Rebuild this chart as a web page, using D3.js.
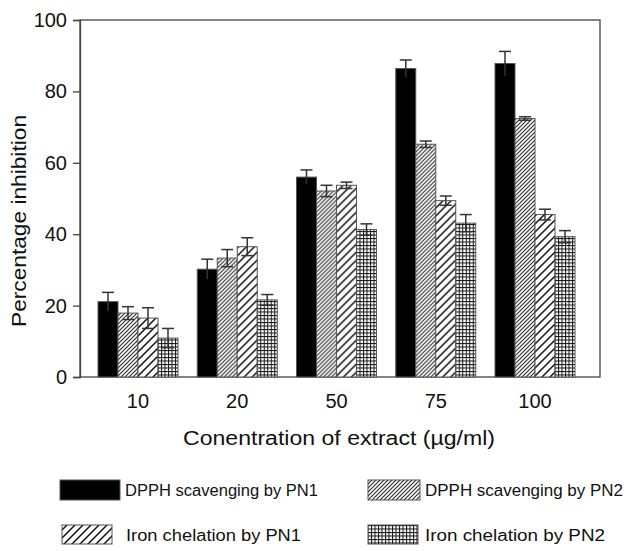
<!DOCTYPE html>
<html><head><meta charset="utf-8">
<script src="https://cdn.jsdelivr.net/npm/d3@7"></script>
<style>html,body{margin:0;padding:0;background:#fff;}svg{display:block;font-family:"Liberation Sans",Arial,Helvetica,sans-serif;}</style>
</head><body>
<script>
const categories = ["10", "20", "50", "75", "100"];
const seriesNames = ["DPPH scavenging by PN1", "DPPH scavenging by PN2", "Iron chelation by PN1", "Iron chelation by PN2"];
const dpphPN1 = [21.1, 30.2, 56.0, 86.4, 87.8];
const dpphPN1Err = [2.6, 2.8, 2.0, 2.4, 3.4];
const dpphPN2 = [17.9, 33.3, 52.1, 65.2, 72.4];
const dpphPN2Err = [1.8, 2.4, 1.6, 0.9, 0.5];
const ironPN1 = [16.5, 36.5, 53.7, 49.4, 45.5];
const ironPN1Err = [2.9, 2.5, 0.9, 1.3, 1.5];
const ironPN2 = [10.9, 21.6, 41.3, 43.1, 39.3];
const ironPN2Err = [2.7, 1.5, 1.6, 2.4, 1.7];
const yTicks = [0, 20, 40, 60, 80, 100];
const xTitle = "Conentration of extract (\u00b5g/ml)";
const yTitle = "Percentage inhibition";

const values = [dpphPN1, dpphPN2, ironPN1, ironPN2];
const errors = [dpphPN1Err, dpphPN2Err, ironPN1Err, ironPN2Err];
const fills = ["#000", "url(#pDense)", "url(#pWide)", "url(#pGrid)"];

const W = 629, H = 551;
const svg = d3.select("body").append("svg").attr("width", W).attr("height", H);
const defs = svg.append("defs");

function diagPattern(id, s, color, sw) {
  const p = defs.append("pattern").attr("id", id).attr("patternUnits", "userSpaceOnUse")
    .attr("width", s).attr("height", s);
  p.append("rect").attr("width", s).attr("height", s).attr("fill", "#fff");
  p.append("path").attr("d", `M0,${s} L${s},0 M${-s / 2},${s / 2} L${s / 2},${-s / 2} M${s / 2},${s * 1.5} L${s * 1.5},${s / 2}`)
    .attr("stroke", color).attr("stroke-width", sw).attr("fill", "none");
}
diagPattern("pDense", 4, "#333", 1.2);
diagPattern("pWide", 8, "#111", 1.5);
// grid
const pg = defs.append("pattern").attr("id", "pGrid").attr("patternUnits", "userSpaceOnUse")
  .attr("width", 3.5).attr("height", 3.5);
pg.append("rect").attr("width", 3.5).attr("height", 3.5).attr("fill", "#fff");
pg.append("line").attr("x1", 0.5).attr("y1", 0).attr("x2", 0.5).attr("y2", 3.5).attr("stroke", "#111").attr("stroke-width", 1);
pg.append("line").attr("x1", 0).attr("y1", 0.5).attr("x2", 3.5).attr("y2", 0.5).attr("stroke", "#111").attr("stroke-width", 1);

const plot = {left: 80, right: 600, top: 20, bottom: 377};
const y = d3.scaleLinear().domain([0, 100]).range([plot.bottom, plot.top]);
const x0 = d3.scaleBand().domain(categories).range([98, 575]).paddingInner(0.194).paddingOuter(0);
const x1 = d3.scaleBand().domain(d3.range(4)).range([0, x0.bandwidth()]).padding(0);

// frame
svg.append("rect").attr("x", plot.left).attr("y", plot.top)
  .attr("width", plot.right - plot.left).attr("height", plot.bottom - plot.top)
  .attr("fill", "none").attr("stroke", "#444").attr("stroke-width", 1.3);

// y axis
const yAxis = svg.append("g").attr("transform", `translate(${plot.left},0)`)
  .call(d3.axisLeft(y).tickValues(yTicks).tickSize(7).tickPadding(6));
yAxis.select(".domain").attr("stroke", "#444").attr("stroke-width", 1.3);
yAxis.selectAll(".tick line").attr("stroke", "#444").attr("stroke-width", 1.3);
yAxis.selectAll(".tick text").attr("font-size", 20).attr("fill", "#111")
  .attr("font-family", '"Liberation Sans",Arial,sans-serif');

// x axis labels (no ticks)
const xAxis = svg.append("g").attr("transform", `translate(0,${plot.bottom})`)
  .call(d3.axisBottom(x0).tickSize(0).tickPadding(17));
xAxis.select(".domain").remove();
xAxis.selectAll(".tick text").attr("font-size", 20).attr("fill", "#111")
  .attr("font-family", '"Liberation Sans",Arial,sans-serif');

// bars
const groups = svg.append("g").selectAll("g").data(categories).join("g")
  .attr("transform", d => `translate(${x0(d)},0)`);
groups.each(function(cat, ci) {
  const g = d3.select(this);
  for (let s = 0; s < 4; s++) {
    const v = values[s][ci], e = errors[s][ci];
    const bx = x1(s), bw = x1.bandwidth(), cx = bx + bw / 2;
    g.append("rect").attr("x", bx).attr("y", y(v)).attr("width", bw).attr("height", y(0) - y(v))
      .attr("fill", fills[s]).attr("stroke", "#555").attr("stroke-width", 1);
    const eb = g.append("g").attr("stroke", "#333").attr("stroke-width", 1.5);
    eb.append("line").attr("x1", cx).attr("x2", cx).attr("y1", y(v - e)).attr("y2", y(v + e));
    eb.append("line").attr("x1", cx - 6).attr("x2", cx + 6).attr("y1", y(v + e)).attr("y2", y(v + e));
    if (s > 0) eb.append("line").attr("x1", cx - 6).attr("x2", cx + 6).attr("y1", y(v - e)).attr("y2", y(v - e));
  }
});

// titles
svg.append("text").attr("x", 339).attr("y", 445).attr("text-anchor", "middle")
  .attr("font-size", 20).attr("fill", "#111")
  .attr("textLength", 312).attr("lengthAdjust", "spacingAndGlyphs").text(xTitle);
svg.append("text").attr("transform", "translate(26,221) rotate(-90)").attr("text-anchor", "middle")
  .attr("font-size", 20).attr("fill", "#111")
  .attr("textLength", 212).attr("lengthAdjust", "spacingAndGlyphs").text(yTitle);

// legend
const legendPos = [
  {rx: 60, ry: 480, rw: 60, rh: 20, tx: 125, ty: 496, tl: 193},
  {rx: 368, ry: 480, rw: 52, rh: 20, tx: 425, ty: 496, tl: 198},
  {rx: 62, ry: 525, rw: 50, rh: 19, tx: 126, ty: 541, tl: 175},
  {rx: 368, ry: 525, rw: 50, rh: 19, tx: 425, ty: 541, tl: 180}
];
const lg = svg.append("g").selectAll("g").data(seriesNames).join("g");
lg.append("rect").attr("x", (d, i) => legendPos[i].rx).attr("y", (d, i) => legendPos[i].ry)
  .attr("width", (d, i) => legendPos[i].rw).attr("height", (d, i) => legendPos[i].rh)
  .attr("fill", (d, i) => fills[i]).attr("stroke", "#555").attr("stroke-width", 1);
lg.append("text").attr("x", (d, i) => legendPos[i].tx).attr("y", (d, i) => legendPos[i].ty)
  .attr("font-size", 16).attr("fill", "#111")
  .attr("textLength", (d, i) => legendPos[i].tl).attr("lengthAdjust", "spacingAndGlyphs").text(d => d);
</script>
</body></html>
